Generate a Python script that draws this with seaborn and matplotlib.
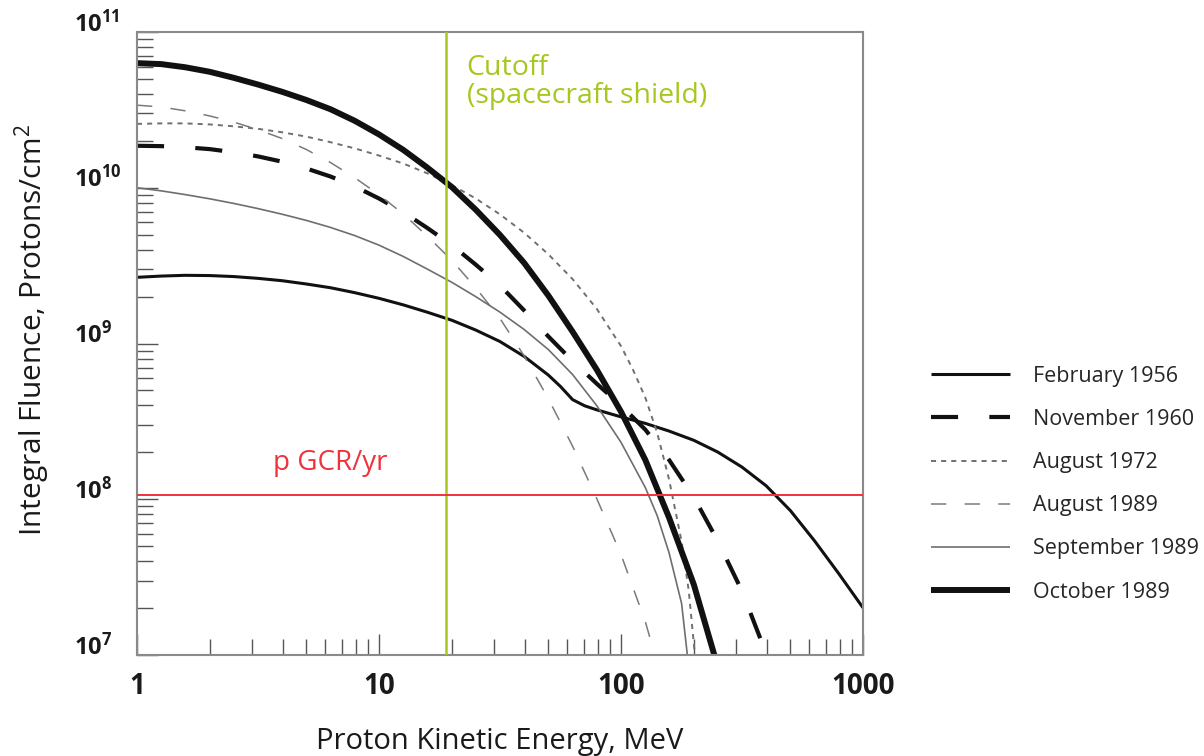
"""solar particle event fluence spectra, log-log"""

import matplotlib as mpl
import matplotlib.pyplot as plt
import matplotlib.transforms as mtransforms
import pandas as pd
import seaborn as sns

# events (integral fluence in protons/cm2)
events = [
    "February 1956",
    "November 1960",
    "August 1972",
    "August 1989",
    "September 1989",
    "October 1989",
]

feb1956_e = [1, 1.26, 1.58, 2, 2.51, 3.16, 3.98, 5.01, 6.31, 7.94, 10, 12.6, 15.8, 20, 25.1, 31.6, 39.8,
             50.1, 56.2, 63.1, 70.8, 79.4, 100, 126, 158, 200, 251, 316, 398, 501, 631, 794, 1000]
feb1956_f = [2.66e9, 2.71e9, 2.74e9, 2.73e9, 2.69e9, 2.62e9, 2.53e9, 2.41e9, 2.28e9, 2.12e9, 1.95e9,
             1.77e9, 1.59e9, 1.41e9, 1.22e9, 1.03e9, 8.26e8, 6.27e8, 5.3e8, 4.36e8, 3.98e8, 3.75e8,
             3.38e8, 3.07e8, 2.74e8, 2.39e8, 2.01e8, 1.61e8, 1.22e8, 8.46e7, 5.4e7, 3.33e7, 2.01e7]

nov1960_e = [1, 1.26, 1.58, 2, 2.51, 3.16, 3.98, 5.01, 6.31, 7.94, 10, 12.6, 15.8, 20, 25.1, 31.6, 39.8,
             50.1, 63.1, 79.4, 100, 126, 158, 200, 251, 316, 400]
nov1960_f = [1.86e10, 1.85e10, 1.82e10, 1.77e10, 1.69e10, 1.59e10, 1.47e10, 1.33e10, 1.18e10, 1.02e10,
             8.53e9, 6.97e9, 5.53e9, 4.28e9, 3.21e9, 2.36e9, 1.63e9, 1.11e9, 7.71e8, 5.52e8, 4.0e8,
             2.8e8, 1.79e8, 1.03e8, 5.4e7, 2.58e7, 1.0e7]

aug1972_e = [1, 1.26, 1.58, 2, 2.51, 3.16, 3.98, 5.01, 6.31, 7.94, 10, 12.6, 15.8, 20, 25.1, 31.6, 39.8,
             50.1, 63.1, 79.4, 100, 112, 126, 141, 158, 178, 190.5, 202]
aug1972_f = [2.57e10, 2.59e10, 2.59e10, 2.55e10, 2.48e10, 2.39e10, 2.27e10, 2.13e10, 1.96e10, 1.79e10,
             1.61e10, 1.43e10, 1.24e10, 1.04e10, 8.53e9, 6.75e9, 5.14e9, 3.74e9, 2.59e9, 1.67e9, 9.62e8,
             6.81e8, 4.5e8, 2.68e8, 1.34e8, 5.35e7, 2.59e7, 1.0e7]

aug1989_e = [1, 1.26, 1.58, 2, 2.51, 3.16, 3.98, 5.01, 6.31, 7.94, 10, 12.6, 15.8, 20, 25.1, 31.6, 39.8,
             50.1, 63.1, 79.4, 100, 126, 138]
aug1989_f = [3.39e10, 3.3e10, 3.12e10, 2.89e10, 2.64e10, 2.36e10, 2.07e10, 1.76e10, 1.45e10, 1.16e10,
             9.02e9, 6.78e9, 4.91e9, 3.42e9, 2.28e9, 1.45e9, 8.32e8, 4.42e8, 2.19e8, 1.01e8, 4.42e7,
             1.64e7, 1.0e7]

sep1989_e = [1, 1.26, 1.58, 2, 2.51, 3.16, 3.98, 5.01, 6.31, 7.94, 10, 12.6, 15.8, 20, 25.1, 31.6, 39.8,
             50.1, 63.1, 79.4, 100, 126, 141, 158, 178, 188]
sep1989_f = [1.0e10, 9.55e9, 9.04e9, 8.49e9, 7.93e9, 7.35e9, 6.76e9, 6.17e9, 5.56e9, 4.93e9, 4.28e9,
             3.62e9, 3.01e9, 2.47e9, 2.0e9, 1.59e9, 1.23e9, 9.14e8, 6.32e8, 3.99e8, 2.32e8, 1.19e8,
             7.87e7, 4.53e7, 2.14e7, 1.0e7]

oct1989_e = [1, 1.26, 1.58, 2, 2.51, 3.16, 3.98, 5.01, 6.31, 7.94, 10, 12.6, 15.8, 20, 25.1, 31.6, 39.8,
             50.1, 63.1, 79.4, 100, 126, 158, 200, 243]
oct1989_f = [6.31e10, 6.22e10, 5.94e10, 5.55e10, 5.08e10, 4.6e10, 4.13e10, 3.66e10, 3.19e10, 2.69e10,
             2.2e10, 1.75e10, 1.35e10, 1.01e10, 7.23e9, 4.98e9, 3.29e9, 2.03e9, 1.19e9, 6.79e8, 3.65e8,
             1.79e8, 7.62e7, 2.83e7, 1.0e7]

cutoff_energy = 19  # MeV, spacecraft shield
gcr_fluence = 1.07e8  # protons/cm2 per year

x_ticks = [1, 10, 100, 1000]
x_ticklabels = ["1", "10", "100", "1000"]
y_ticks = [1e7, 1e8, 1e9, 1e10, 1e11]
y_ticklabels = [r"$\mathbf{10^{7}}$", r"$\mathbf{10^{8}}$", r"$\mathbf{10^{9}}$",
                r"$\mathbf{10^{10}}$", r"$\mathbf{10^{11}}$"]

series = {
    "February 1956": (feb1956_e, feb1956_f),
    "November 1960": (nov1960_e, nov1960_f),
    "August 1972": (aug1972_e, aug1972_f),
    "August 1989": (aug1989_e, aug1989_f),
    "September 1989": (sep1989_e, sep1989_f),
    "October 1989": (oct1989_e, oct1989_f),
}

styles = {
    "February 1956": dict(color="#111111", lw=2.2, ls="-"),
    "November 1960": dict(color="#111111", lw=3.0, ls=(0, (6.5, 7.5))),
    "August 1972": dict(color="#707070", lw=1.4, ls=(0, (2.6, 2.6))),
    "August 1989": dict(color="#7a7a7a", lw=1.1, ls=(0, (10, 12))),
    "September 1989": dict(color="#6e6e6e", lw=1.2, ls="-"),
    "October 1989": dict(color="#111111", lw=4.3, ls="-"),
}

GREEN = "#a6c81e"
RED = "#f0323c"

sns.set_style("white")
plt.rcParams["font.family"] = ["Open Sans", "DejaVu Sans"]
plt.rcParams["mathtext.fontset"] = "custom"
plt.rcParams["mathtext.rm"] = "Open Sans"
plt.rcParams["mathtext.bf"] = "Open Sans:bold"

frames = []
for name in events:
    e, f = series[name]
    frames.append(pd.DataFrame({"event": name, "energy": e, "fluence": f}))
df = pd.concat(frames, ignore_index=True)

fig = plt.figure(figsize=(12.04, 7.56), dpi=100)
ax = fig.add_axes([137 / 1204, 1 - 655 / 756, 726 / 1204, 623 / 756])

for name in events:
    st = styles[name]
    sns.lineplot(
        data=df[df["event"] == name], x="energy", y="fluence", ax=ax,
        color=st["color"], linewidth=st["lw"], linestyle=st["ls"], label=name,
        solid_capstyle="butt", dash_capstyle="butt", solid_joinstyle="round",
    )

ax.set_xscale("log")
ax.set_yscale("log")
ax.set_xlim(1, 1000)
ax.set_ylim(1e7, 1e11)

ax.axvline(cutoff_energy, color=GREEN, lw=1.8, zorder=5)
ax.axhline(gcr_fluence, color=RED, lw=1.4, zorder=5)

ax.text(23, 10**10.86, "Cutoff\n(spacecraft shield)", color=GREEN, fontsize=20.5,
        va="top", ha="left", linespacing=1.0)
ax.text(3.64, 10**8.235, "p GCR/yr", color=RED, fontsize=20, va="center", ha="left")

# ticks
ax.set_xticks(x_ticks)
ax.set_xticklabels(x_ticklabels, fontsize=20, fontweight="bold")
ax.set_yticks(y_ticks)
ax.set_yticklabels(y_ticklabels, fontsize=17, ha="left")
ax.xaxis.set_minor_locator(mpl.ticker.LogLocator(base=10, subs=range(2, 10)))
ax.yaxis.set_minor_locator(mpl.ticker.LogLocator(base=10, subs=range(2, 10)))
ax.xaxis.set_minor_formatter(mpl.ticker.NullFormatter())
ax.yaxis.set_minor_formatter(mpl.ticker.NullFormatter())
ax.tick_params(axis="both", which="both", direction="in", color="#555555", width=1,
               bottom=True, left=True, top=False, right=False, labelcolor="#1a1a1a")
ax.tick_params(axis="both", which="major", length=15)
ax.tick_params(axis="both", which="minor", length=11.5)
ax.tick_params(axis="x", which="major", pad=12)
ax.tick_params(axis="y", which="major", pad=45)

shift = mtransforms.ScaledTranslation(0, 8 / 72, fig.dpi_scale_trans)
for lab in ax.get_yticklabels():
    lab.set_transform(lab.get_transform() + shift)

for sp in ax.spines.values():
    sp.set_color("#8a8a8a")
    sp.set_linewidth(1.5)

ax.set_xlabel("Proton Kinetic Energy, MeV", fontsize=21, labelpad=19, color="#1a1a1a")
ax.set_ylabel("Integral Fluence, Protons/cm$^2$", fontsize=21.5, color="#1a1a1a")
ax.yaxis.set_label_coords(-0.116, 0.522)

ax.legend(
    loc="upper left", bbox_to_anchor=(920 / 1204, 1 - 355 / 756),
    bbox_transform=fig.transFigure, frameon=False, fontsize=15.5,
    handlelength=3.7, handletextpad=1.07, labelspacing=1.03, borderpad=0,
)

plt.savefig("out.png", dpi=100)
